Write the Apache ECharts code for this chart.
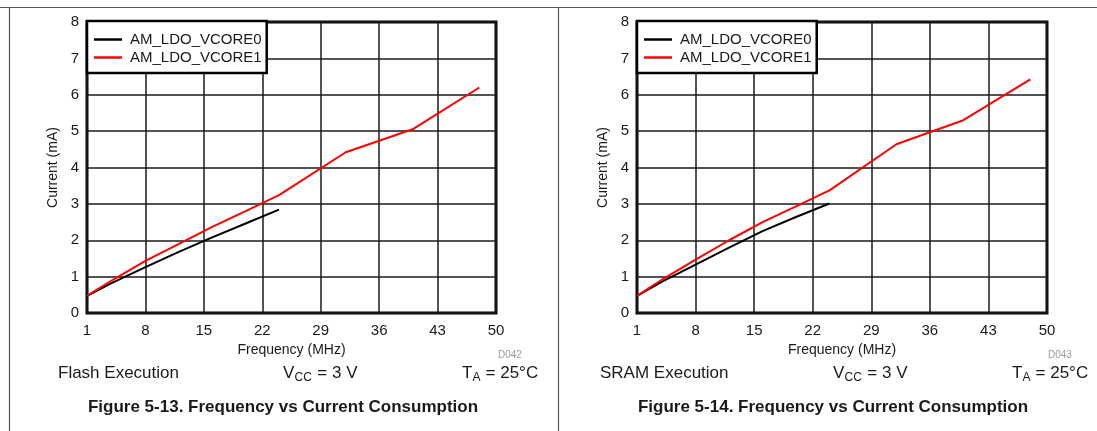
<!DOCTYPE html>
<html>
<head>
<meta charset="utf-8">
<script src="https://cdn.jsdelivr.net/npm/echarts@6/dist/echarts.min.js"></script>
<style>
html,body{margin:0;padding:0;background:#fff;}
#c{width:1097px;height:431px;}
</style>
</head>
<body>
<div id="c"></div>
<script>
// ---- data ----
const seriesNames = ['AM_LDO_VCORE0', 'AM_LDO_VCORE1'];
const freqVcore0 = [1, 4, 8, 12, 16, 20, 24];
const freqVcore1 = [1, 4, 8, 12, 16, 20, 24, 32, 40, 48];
const flashVcore0 = [0.47, 0.83, 1.26, 1.68, 2.08, 2.46, 2.84];
const flashVcore1 = [0.47, 0.90, 1.43, 1.90, 2.37, 2.80, 3.24, 4.42, 5.05, 6.20];
const sramVcore0 = [0.47, 0.86, 1.33, 1.80, 2.25, 2.64, 3.01];
const sramVcore1 = [0.47, 0.92, 1.47, 2.00, 2.50, 2.93, 3.37, 4.64, 5.30, 6.42];
const xTicks = { min: 1, max: 50, interval: 7 };
const yTicks = { min: 0, max: 8, interval: 1 };
const panelTitles = ['Flash Execution', 'SRAM Execution'];
const figureCaptions = ['Figure 5-13. Frequency vs Current Consumption', 'Figure 5-14. Frequency vs Current Consumption'];
const figureIds = ['D042', 'D043'];

const FONT = '"Liberation Sans", Arial, Helvetica, sans-serif';
const zip = (xs, ys) => xs.map((x, i) => [x, ys[i]]);

function makeAxes(gridIndex) {
  return {
    x: {
      type: 'value', gridIndex, min: xTicks.min, max: xTicks.max, interval: xTicks.interval,
      name: 'Frequency (MHz)', nameLocation: 'middle', nameGap: 26,
      nameTextStyle: { fontFamily: FONT, fontSize: 14, color: '#1a1a1a' },
      axisLine: { show: false }, axisTick: { show: false },
      axisLabel: { fontFamily: FONT, fontSize: 15, color: '#1a1a1a', margin: 10 },
      splitLine: { show: true, lineStyle: { color: '#1a1a1a', width: 1.5 } }
    },
    y: {
      type: 'value', gridIndex, min: yTicks.min, max: yTicks.max, interval: yTicks.interval,
      name: 'Current (mA)', nameLocation: 'middle', nameGap: 27,
      nameTextStyle: { fontFamily: FONT, fontSize: 14, color: '#1a1a1a' },
      axisLine: { show: false }, axisTick: { show: false },
      axisLabel: { fontFamily: FONT, fontSize: 15, color: '#1a1a1a', margin: 8 },
      splitLine: { show: true, lineStyle: { color: '#1a1a1a', width: 1.5 } }
    }
  };
}
const a0 = makeAxes(0), a1 = makeAxes(1);

function lineSeries(name, idx, data, color) {
  return {
    type: 'line', name, xAxisIndex: idx, yAxisIndex: idx, data,
    showSymbol: false, symbol: 'none', smooth: false, animation: false,
    lineStyle: { color, width: 2 }, itemStyle: { color }
  };
}

function legendAt(left) {
  return {
    left, top: 21, orient: 'vertical', data: seriesNames,
    backgroundColor: '#fff', borderColor: '#000', borderWidth: 2.5, borderRadius: 0,
    padding: [11, 5, 8, 7], itemGap: 3, itemWidth: 28, itemHeight: 2.5, icon: 'rect',
    selectedMode: false,
    textStyle: { fontFamily: FONT, fontSize: 15, color: '#1a1a1a', lineHeight: 15, padding: [0, 0, 0, 3] }
  };
}

function txt(x, y, text, opts) {
  return {
    type: 'text', x, y, silent: true,
    style: Object.assign({ text, font: '17px ' + FONT, fill: '#1a1a1a', textAlign: 'left', textVerticalAlign: 'middle' }, opts || {})
  };
}
// main letter + lowered subscript + rest, placed as one group
function subText(x, y, main, mainW, sub, subW, rest) {
  return {
    type: 'group', x, y, silent: true,
    children: [
      txt(0, 0, main),
      txt(mainW, 5, sub, { font: '12px ' + FONT }),
      txt(mainW + subW, 0, rest)
    ]
  };
}
function frameLine(x1, y1, x2, y2) {
  return { type: 'line', silent: true, shape: { x1, y1, x2, y2 }, style: { stroke: '#555', lineWidth: 1.2 } };
}

const graphics = [
  frameLine(0, 7.5, 1097, 7.5),
  frameLine(9.5, 7.5, 9.5, 431),
  frameLine(558.5, 7.5, 558.5, 431)
];
[0, 1].forEach(p => {
  const dx = p * 550;
  graphics.push(txt(58 + (p ? 542 : 0), 373, panelTitles[p]));
  graphics.push(subText(283 + dx, 373, 'V', 11.6, 'CC', 18, ' = 3 V'));
  graphics.push(subText(462 + dx, 373, 'T', 10.4, 'A', 8.4, ' = 25°C'));
  graphics.push(txt(498 + dx, 355, figureIds[p], { font: '10px ' + FONT, fill: '#9a9a9a' }));
  graphics.push(txt(283 + dx, 407, figureCaptions[p], { font: 'bold 17px ' + FONT, fill: '#1a1a1a', textAlign: 'center' }));
});

const option = {
  animation: false,
  backgroundColor: '#fff',
  grid: [
    { left: 87, top: 22, width: 409, height: 291, show: true, borderColor: '#000', borderWidth: 3, backgroundColor: 'transparent' },
    { left: 637, top: 22, width: 410, height: 291, show: true, borderColor: '#000', borderWidth: 3, backgroundColor: 'transparent' }
  ],
  xAxis: [a0.x, a1.x],
  yAxis: [a0.y, a1.y],
  legend: [legendAt(87), legendAt(637)],
  series: [
    lineSeries(seriesNames[0], 0, zip(freqVcore0, flashVcore0), '#000'),
    lineSeries(seriesNames[1], 0, zip(freqVcore1, flashVcore1), '#ff0000'),
    lineSeries(seriesNames[0], 1, zip(freqVcore0, sramVcore0), '#000'),
    lineSeries(seriesNames[1], 1, zip(freqVcore1, sramVcore1), '#ff0000')
  ],
  graphic: graphics
};

const chart = echarts.init(document.getElementById('c'), null, { renderer: 'canvas' });
chart.setOption(option);
</script>
</body>
</html>
